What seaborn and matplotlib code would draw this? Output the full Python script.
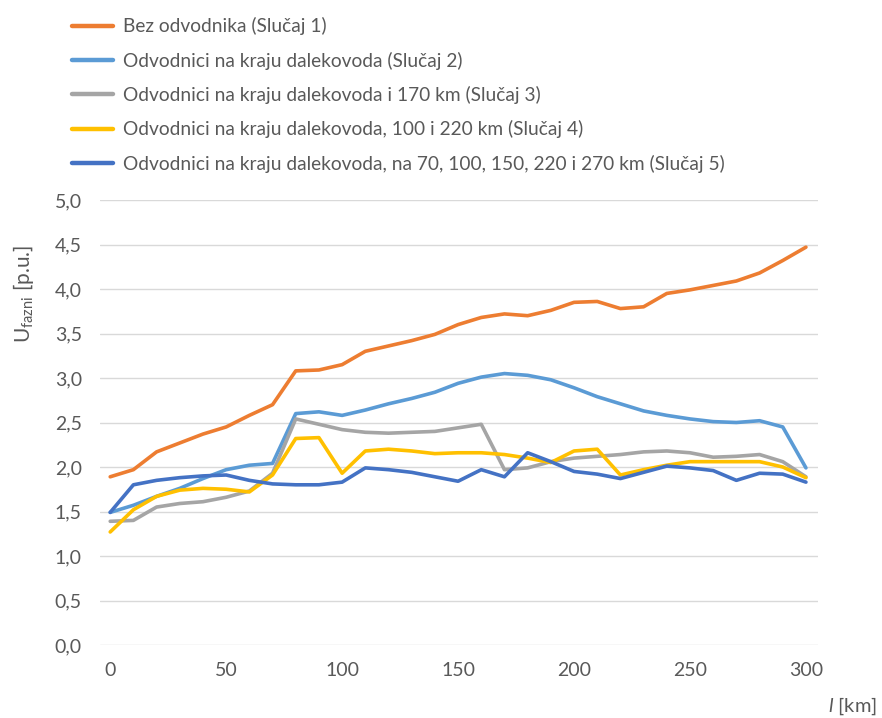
import numpy as np
import pandas as pd
import matplotlib
matplotlib.use("Agg")
import matplotlib.pyplot as plt
from matplotlib.ticker import FuncFormatter, MultipleLocator
import seaborn as sns

# Distance along the line [km]
distance_km = list(range(0, 301, 10))

# Phase overvoltage [p.u.] for each surge-arrester configuration
case1 = [1.89, 1.97, 2.17, 2.27, 2.37, 2.45, 2.58, 2.70, 3.08, 3.09, 3.15,
         3.30, 3.36, 3.42, 3.49, 3.60, 3.68, 3.72, 3.70, 3.76, 3.85,
         3.86, 3.78, 3.80, 3.95, 3.99, 4.04, 4.09, 4.18, 4.32, 4.47]
case2 = [1.49, 1.57, 1.67, 1.76, 1.87, 1.97, 2.02, 2.04, 2.60, 2.62, 2.58,
         2.64, 2.71, 2.77, 2.84, 2.94, 3.01, 3.05, 3.03, 2.98, 2.89,
         2.79, 2.71, 2.63, 2.58, 2.54, 2.51, 2.50, 2.52, 2.45, 1.99]
case3 = [1.39, 1.40, 1.55, 1.59, 1.61, 1.66, 1.73, 1.93, 2.54, 2.48, 2.42,
         2.39, 2.38, 2.39, 2.40, 2.44, 2.48, 1.97, 1.99, 2.06, 2.10,
         2.12, 2.14, 2.17, 2.18, 2.16, 2.11, 2.12, 2.14, 2.06, 1.89]
case4 = [1.27, 1.52, 1.67, 1.74, 1.76, 1.75, 1.72, 1.91, 2.32, 2.33, 1.93,
         2.18, 2.20, 2.18, 2.15, 2.16, 2.16, 2.14, 2.10, 2.05, 2.18,
         2.20, 1.91, 1.97, 2.02, 2.06, 2.06, 2.06, 2.06, 2.00, 1.88]
case5 = [1.49, 1.80, 1.85, 1.88, 1.90, 1.91, 1.85, 1.81, 1.80, 1.80, 1.83,
         1.99, 1.97, 1.94, 1.89, 1.84, 1.97, 1.89, 2.16, 2.06, 1.95,
         1.92, 1.87, 1.94, 2.01, 1.99, 1.96, 1.85, 1.93, 1.92, 1.83]

labels = [
    "Bez odvodnika (Slučaj 1)",
    "Odvodnici na kraju dalekovoda (Slučaj 2)",
    "Odvodnici na kraju dalekovoda i 170 km (Slučaj 3)",
    "Odvodnici na kraju dalekovoda, 100 i 220 km (Slučaj 4)",
    "Odvodnici na kraju dalekovoda, na 70, 100, 150, 220 i 270 km (Slučaj 5)",
]
colors = ["#ED7D31", "#5B9BD5", "#A5A5A5", "#FFC000", "#4472C4"]

series = [case1, case2, case3, case4, case5]
df = pd.concat(
    [pd.DataFrame({"l": distance_km, "U": vals, "case": lab})
     for vals, lab in zip(series, labels)],
    ignore_index=True,
)

sns.set_theme(style="white")
plt.rcParams["font.family"] = ["Lato", "DejaVu Sans"]
plt.rcParams["mathtext.fontset"] = "custom"
plt.rcParams["mathtext.rm"] = "Lato"
plt.rcParams["mathtext.it"] = "Lato:italic"

text_color = "#595959"
fig = plt.figure(figsize=(8.82, 7.18), dpi=100)
ax = fig.add_axes([100 / 882, 1 - 645 / 718, 718 / 882, 445 / 718])

sns.lineplot(data=df, x="l", y="U", hue="case", hue_order=labels,
             palette=colors, linewidth=2.6, ax=ax, legend=False,
             solid_capstyle="round", solid_joinstyle="round")

ax.set_xlim(-4.4, 305.2)
ax.set_ylim(0, 5.0)
ax.xaxis.set_major_locator(MultipleLocator(50))
ax.yaxis.set_major_locator(MultipleLocator(0.5))
ax.yaxis.set_major_formatter(FuncFormatter(lambda v, p: f"{v:.1f}".replace(".", ",")))
ax.grid(axis="y", color="#D9D9D9", linewidth=1.0)
ax.grid(axis="x", visible=False)
ax.set_axisbelow(True)
for s in ax.spines.values():
    s.set_visible(False)
ax.tick_params(axis="both", length=0, labelsize=14, colors=text_color)
ax.tick_params(axis="y", pad=13)
ax.tick_params(axis="x", pad=12)
ax.set_xlabel("")
ax.set_ylabel("")

fig.text(24 / 882, 1 - 294 / 718, r"U$_{\mathregular{fazni}}$ [p.u.]",
         rotation=90, ha="center", va="center", fontsize=15, color=text_color)
fig.text(877 / 882, 1 - 706 / 718, r"$\mathit{l}$ [km]",
         ha="right", va="center", fontsize=14.5, color=text_color)

handles = [plt.Line2D([], [], color=c, linewidth=3.2) for c in colors]
fig.legend(handles, labels, loc="upper left", bbox_to_anchor=(55 / 882, 1.0),
           frameon=False, fontsize=13.8, handlelength=2.1, handletextpad=0.57,
           labelspacing=0.85, labelcolor=text_color)

fig.savefig("out.png", dpi=100)
